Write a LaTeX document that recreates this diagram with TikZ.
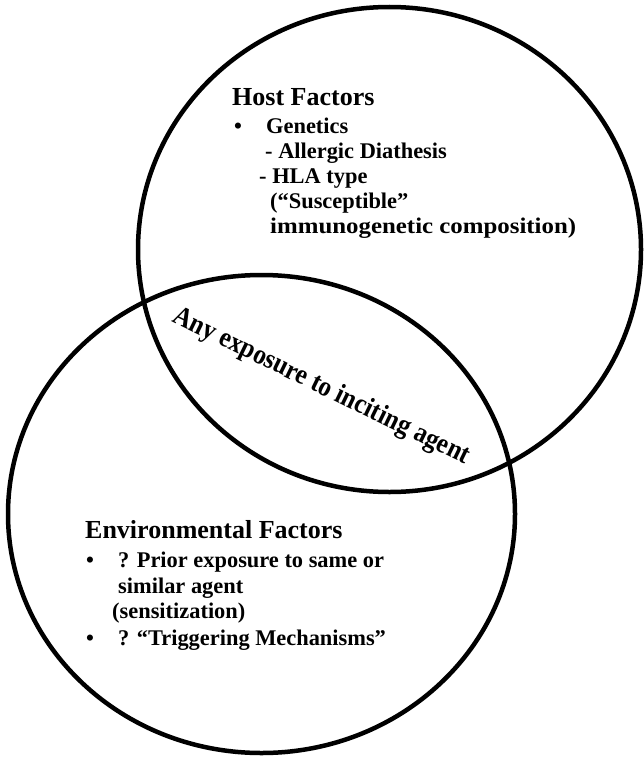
\documentclass[tikz,border=0pt]{standalone}
\usepackage{fontspec}
\setmainfont{Liberation Serif}
\begin{document}
\begin{tikzpicture}[x=1pt,y=-1pt,
  ring/.style={draw=black, line width=4.5pt},
  head/.style={anchor=base west, inner sep=0pt, font=\bfseries\fontsize{26}{28}\selectfont},
  body/.style={anchor=base west, inner sep=0pt, font=\bfseries\fontsize{22.4}{25}\selectfont},
  arc/.style={anchor=base west, inner sep=0pt, font=\bfseries\fontsize{28}{30}\selectfont}
  ]
\useasboundingbox (0,0) rectangle (643,760);
\fill[white] (0,0) rectangle (643,760);
% circles
\draw[ring] (389.5,249.5) ellipse [x radius=251.5pt, y radius=242.5pt];
\draw[ring] (261.5,514) ellipse [x radius=253.5pt, y radius=239pt];
% host factors
\node[head] (hf) at (232,105) {Host Factors};
\node[body] (hb1) at (234,133) {•};
\node[body] (hgen) at (266,133) {Genetics};
\node[body] (hall) at (265,158) {- Allergic Diathesis};
\node[body] (hhla) at (259,183) {- HLA type};
\node[body] (hsus) at (270,208) {(“Susceptible”};
\node[body, xscale=1.11] (himm) at (270,233) {immunogenetic composition)};
% environmental factors
\node[head] (ef) at (85,538) {Environmental Factors};
\node[body] (eb1) at (86,567) {•};
\node[body] (epri) at (118,567) {? Prior exposure to same or};
\node[body] (esim) at (118,593) {similar agent};
\node[body] (esen) at (112,618) {(sensitization)};
\node[body] (eb2) at (86,645) {•};
\node[body] (etri) at (118,645) {? “Triggering Mechanisms”};
% overlap text
\node[arc, rotate=-26, xscale=0.9] (any) at (171,321) {Any exposure to inciting agent};
\end{tikzpicture}
\end{document}
